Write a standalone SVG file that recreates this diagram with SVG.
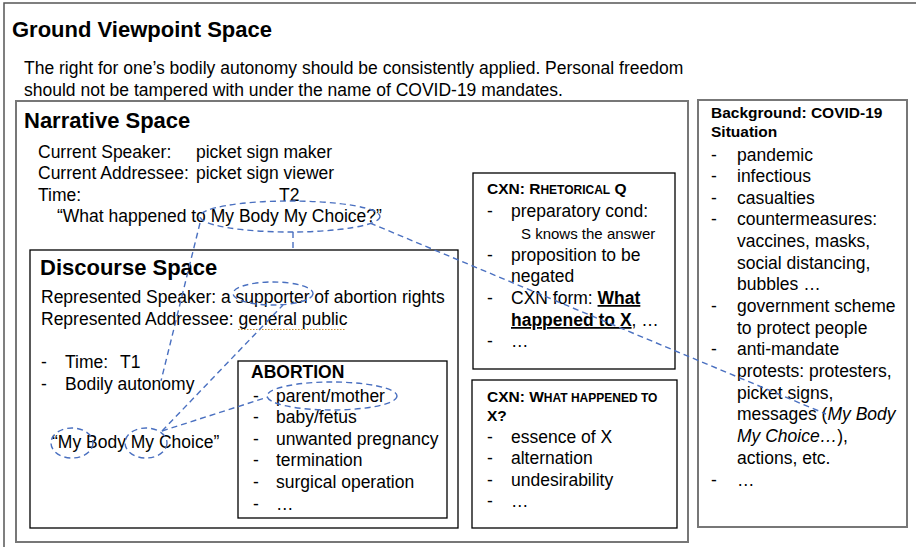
<svg xmlns="http://www.w3.org/2000/svg" width="916" height="547" viewBox="0 0 916 547">
  <style>
    text { font-family: "Liberation Sans", Arial, sans-serif; fill: #000; }
    .title { font-size: 22px; font-weight: bold; }
    .body { font-size: 17.5px; }
    .small { font-size: 15px; }
    .head { font-size: 15.5px; font-weight: bold; }
    .sc { font-size: 12px; }
    .box { fill: #fff; stroke: #000; stroke-width: 1.3; }
    .gbox { fill: none; stroke: #777; stroke-width: 2; }
    .conn { fill: none; stroke: #4a70c0; stroke-width: 1.4; stroke-dasharray: 6 4; }
  </style>

  <!-- Ground Viewpoint Space frame -->
  <g id="ground">
    <path d="M4,547 V3 H916" fill="none" stroke="#555" stroke-width="1.5"/>
    <text class="title" x="12" y="37">Ground Viewpoint Space</text>
    <text class="body" x="24" y="74">The right for one’s bodily autonomy should be consistently applied. Personal freedom</text>
    <text class="body" x="24" y="96">should not be tampered with under the name of COVID-19 mandates.</text>
  </g>

  <!-- Narrative Space -->
  <g id="narrative">
    <rect class="gbox" x="16" y="101" width="672" height="441"/>
    <text class="title" x="24" y="128">Narrative Space</text>
    <text class="body" x="38" y="158">Current Speaker:</text>
    <text class="body" x="196" y="158">picket sign maker</text>
    <text class="body" x="38" y="179">Current Addressee:</text>
    <text class="body" x="196" y="179">picket sign viewer</text>
    <text class="body" x="38" y="201">Time:</text>
    <text class="body" x="279" y="201">T2</text>
    <text class="body" x="57" y="222">“What happened to My Body My Choice?”</text>
  </g>

  <!-- Discourse Space -->
  <g id="discourse">
    <rect class="box" x="30" y="250" width="428" height="278"/>
    <text class="title" x="40" y="275">Discourse Space</text>
    <text class="body" x="41" y="303">Represented Speaker: a supporter of abortion rights</text>
    <text class="body" x="41" y="325">Represented Addressee: general public</text>
    <line x1="238" y1="329.5" x2="345" y2="329.5" stroke="#c8902a" stroke-width="1.2" stroke-dasharray="1.5 1.5"/>
    <text class="body" x="41" y="368">-</text>
    <text class="body" x="65" y="368">Time:</text>
    <text class="body" x="120" y="368">T1</text>
    <text class="body" x="41" y="390">-</text>
    <text class="body" x="65" y="390">Bodily autonomy</text>
    <text class="body" x="52" y="448">“My Body My Choice”</text>
  </g>

  <!-- ABORTION frame -->
  <g id="abortion">
    <rect class="box" x="238" y="361" width="209" height="157"/>
    <text class="body" x="251" y="378" font-weight="bold">ABORTION</text>
    <text class="body" x="253" y="402">-</text><text class="body" x="276" y="402">parent/mother</text>
    <text class="body" x="253" y="423">-</text><text class="body" x="276" y="423">baby/fetus</text>
    <text class="body" x="253" y="445">-</text><text class="body" x="276" y="445">unwanted pregnancy</text>
    <text class="body" x="253" y="466">-</text><text class="body" x="276" y="466">termination</text>
    <text class="body" x="253" y="488">-</text><text class="body" x="276" y="488">surgical operation</text>
    <text class="body" x="253" y="510">-</text><text class="body" x="276" y="510">…</text>
  </g>

  <!-- Rhetorical question construction -->
  <g id="cxn-rhetorical">
    <rect class="box" x="473" y="173" width="202" height="196"/>
    <text class="head" x="487" y="194">CXN: R<tspan class="sc">HETORICAL</tspan> Q</text>
    <text class="body" x="487" y="217">-</text><text class="body" x="511" y="217">preparatory cond:</text>
    <text class="small" x="521" y="239">S knows the answer</text>
    <text class="body" x="487" y="261">-</text><text class="body" x="511" y="261">proposition to be</text>
    <text class="body" x="511" y="282">negated</text>
    <text class="body" x="487" y="304">-</text><text class="body" x="511" y="304">CXN form: <tspan font-weight="bold" text-decoration="underline">What</tspan></text>
    <text class="body" x="511" y="326"><tspan font-weight="bold" text-decoration="underline">happened to X</tspan>, …</text>
    <text class="body" x="487" y="347">-</text><text class="body" x="511" y="347">…</text>
  </g>

  <!-- "What happened to X?" construction -->
  <g id="cxn-what-happened">
    <rect class="box" x="472" y="380" width="205" height="148"/>
    <text class="head" x="487" y="402">CXN: W<tspan class="sc">HAT HAPPENED TO</tspan></text>
    <text class="head" x="487" y="421">X?</text>
    <text class="body" x="487" y="443">-</text><text class="body" x="511" y="443">essence of X</text>
    <text class="body" x="487" y="464">-</text><text class="body" x="511" y="464">alternation</text>
    <text class="body" x="487" y="486">-</text><text class="body" x="511" y="486">undesirability</text>
    <text class="body" x="487" y="507">-</text><text class="body" x="511" y="507">…</text>
  </g>

  <!-- Background frame -->
  <g id="background">
    <rect class="gbox" x="698" y="100" width="209" height="427" stroke-width="1.5"/>
    <text class="head" x="711" y="118">Background: COVID-19</text>
    <text class="head" x="711" y="137">Situation</text>
    <text class="body" x="711" y="161">-</text><text class="body" x="737" y="161">pandemic</text>
    <text class="body" x="711" y="182">-</text><text class="body" x="737" y="182">infectious</text>
    <text class="body" x="711" y="204">-</text><text class="body" x="737" y="204">casualties</text>
    <text class="body" x="711" y="225">-</text><text class="body" x="737" y="225">countermeasures:</text>
    <text class="body" x="737" y="247">vaccines, masks,</text>
    <text class="body" x="737" y="269">social distancing,</text>
    <text class="body" x="737" y="290">bubbles …</text>
    <text class="body" x="711" y="312">-</text><text class="body" x="737" y="312">government scheme</text>
    <text class="body" x="737" y="334">to protect people</text>
    <text class="body" x="711" y="355">-</text><text class="body" x="737" y="355">anti-mandate</text>
    <text class="body" x="737" y="377">protests: protesters,</text>
    <text class="body" x="737" y="399">picket signs,</text>
    <text class="body" x="737" y="420">messages (<tspan font-style="italic">My Body</tspan></text>
    <text class="body" x="737" y="442"><tspan font-style="italic">My Choice…</tspan>),</text>
    <text class="body" x="737" y="464">actions, etc.</text>
    <text class="body" x="711" y="486">-</text><text class="body" x="737" y="486">…</text>
  </g>

  <!-- Dashed highlight ellipses and links -->
  <g id="connectors">
    <ellipse class="conn" cx="290" cy="216.5" rx="90" ry="15.5"/>
    <ellipse class="conn" cx="273" cy="293.5" rx="40" ry="11.5"/>
    <ellipse class="conn" cx="332" cy="396" rx="65" ry="14"/>
    <ellipse class="conn" cx="72" cy="443" rx="21" ry="15"/>
    <ellipse class="conn" cx="146" cy="443" rx="21" ry="15"/>
    <line class="conn" x1="293" y1="232" x2="293" y2="250"/>
    <line class="conn" x1="200" y1="223" x2="161" y2="381"/>
    <line class="conn" x1="370" y1="223" x2="826" y2="414"/>
    <line class="conn" x1="162" y1="431" x2="283" y2="305"/>
    <line class="conn" x1="162" y1="431" x2="268" y2="397"/>
  </g>
</svg>
